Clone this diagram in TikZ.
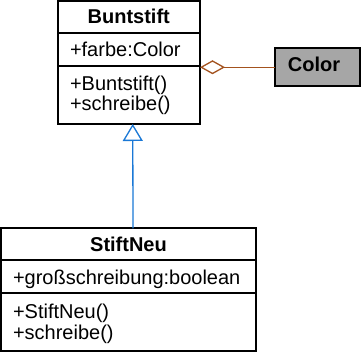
\documentclass[tikz,border=0pt]{standalone}
\usepackage{fontspec}
\setmainfont{Liberation Sans}
\usetikzlibrary{arrows.meta,calc}
\definecolor{aggbrown}{HTML}{A3521E}
\definecolor{inhblue}{HTML}{1A78D6}
\definecolor{boxgray}{HTML}{A6A6A6}
\begin{document}
\begin{tikzpicture}[x=1pt,y=-1pt,
  box/.style={draw=black,line width=2pt,rectangle,inner sep=0pt,outer sep=0pt},
  txt/.style={inner sep=0pt,outer sep=0pt,font=\fontsize{20}{21}\selectfont},
  ttl/.style={txt,font=\fontsize{20}{21}\selectfont\bfseries},
  divider/.style={line width=2pt},
  agg/.style={draw=aggbrown,line width=1.3pt,-{Diamond[fill=white,length=25pt,width=14pt]}},
  inh/.style={draw=inhblue,line width=1.3pt,-{Triangle[fill=white,length=17pt,width=20pt]}}]
\useasboundingbox (0,0) rectangle (361,352);
\fill[white] (0,0) rectangle (361,352);
% boxes
\node[box,fill=white,minimum width=142.5pt,minimum height=123pt] (bunt) at (128.75,62.5) {};
\node[box,fill=boxgray,minimum width=85pt,minimum height=38.5pt] (color) at (317.5,67.25) {};
\node[box,fill=white,minimum width=255pt,minimum height=122.5pt] (neu) at (128.5,289.75) {};
% dividers
\draw[divider] (bunt.west |- 0,33) -- (bunt.east |- 0,33);
\draw[divider] (bunt.west |- 0,66.5) -- (bunt.east |- 0,66.5);
\draw[divider] (neu.west |- 0,260.5) -- (neu.east |- 0,260.5);
\draw[divider] (neu.west |- 0,293) -- (neu.east |- 0,293);
% texts
\node[ttl,anchor=base] (buntT) at (128.75,23.5) {Buntstift};
\node[txt,anchor=base west] (buntA) at (70,57) {+farbe:Color};
\node[txt,anchor=base west] (buntM1) at (70,90.5) {+Buntstift()};
\node[txt,anchor=base west] (buntM2) at (70,111) {+schreibe()};
\node[ttl,anchor=base] (colorT) at (314,71.5) {Color};
\node[ttl,anchor=base] (neuT) at (128.5,252) {StiftNeu};
\node[txt,anchor=base west] (neuA) at (13,285) {+großschreibung:boolean};
\node[txt,anchor=base west] (neuM1) at (13,318) {+StiftNeu()};
\node[txt,anchor=base west] (neuM2) at (13,339.5) {+schreibe()};
% connectors
\draw[agg] (color.west) -- (color.west -| bunt.east);
\draw[inh] ($(neu.north)+(4.5,0)$) -- ($(bunt.south)+(4,0)$);
\end{tikzpicture}
\end{document}
